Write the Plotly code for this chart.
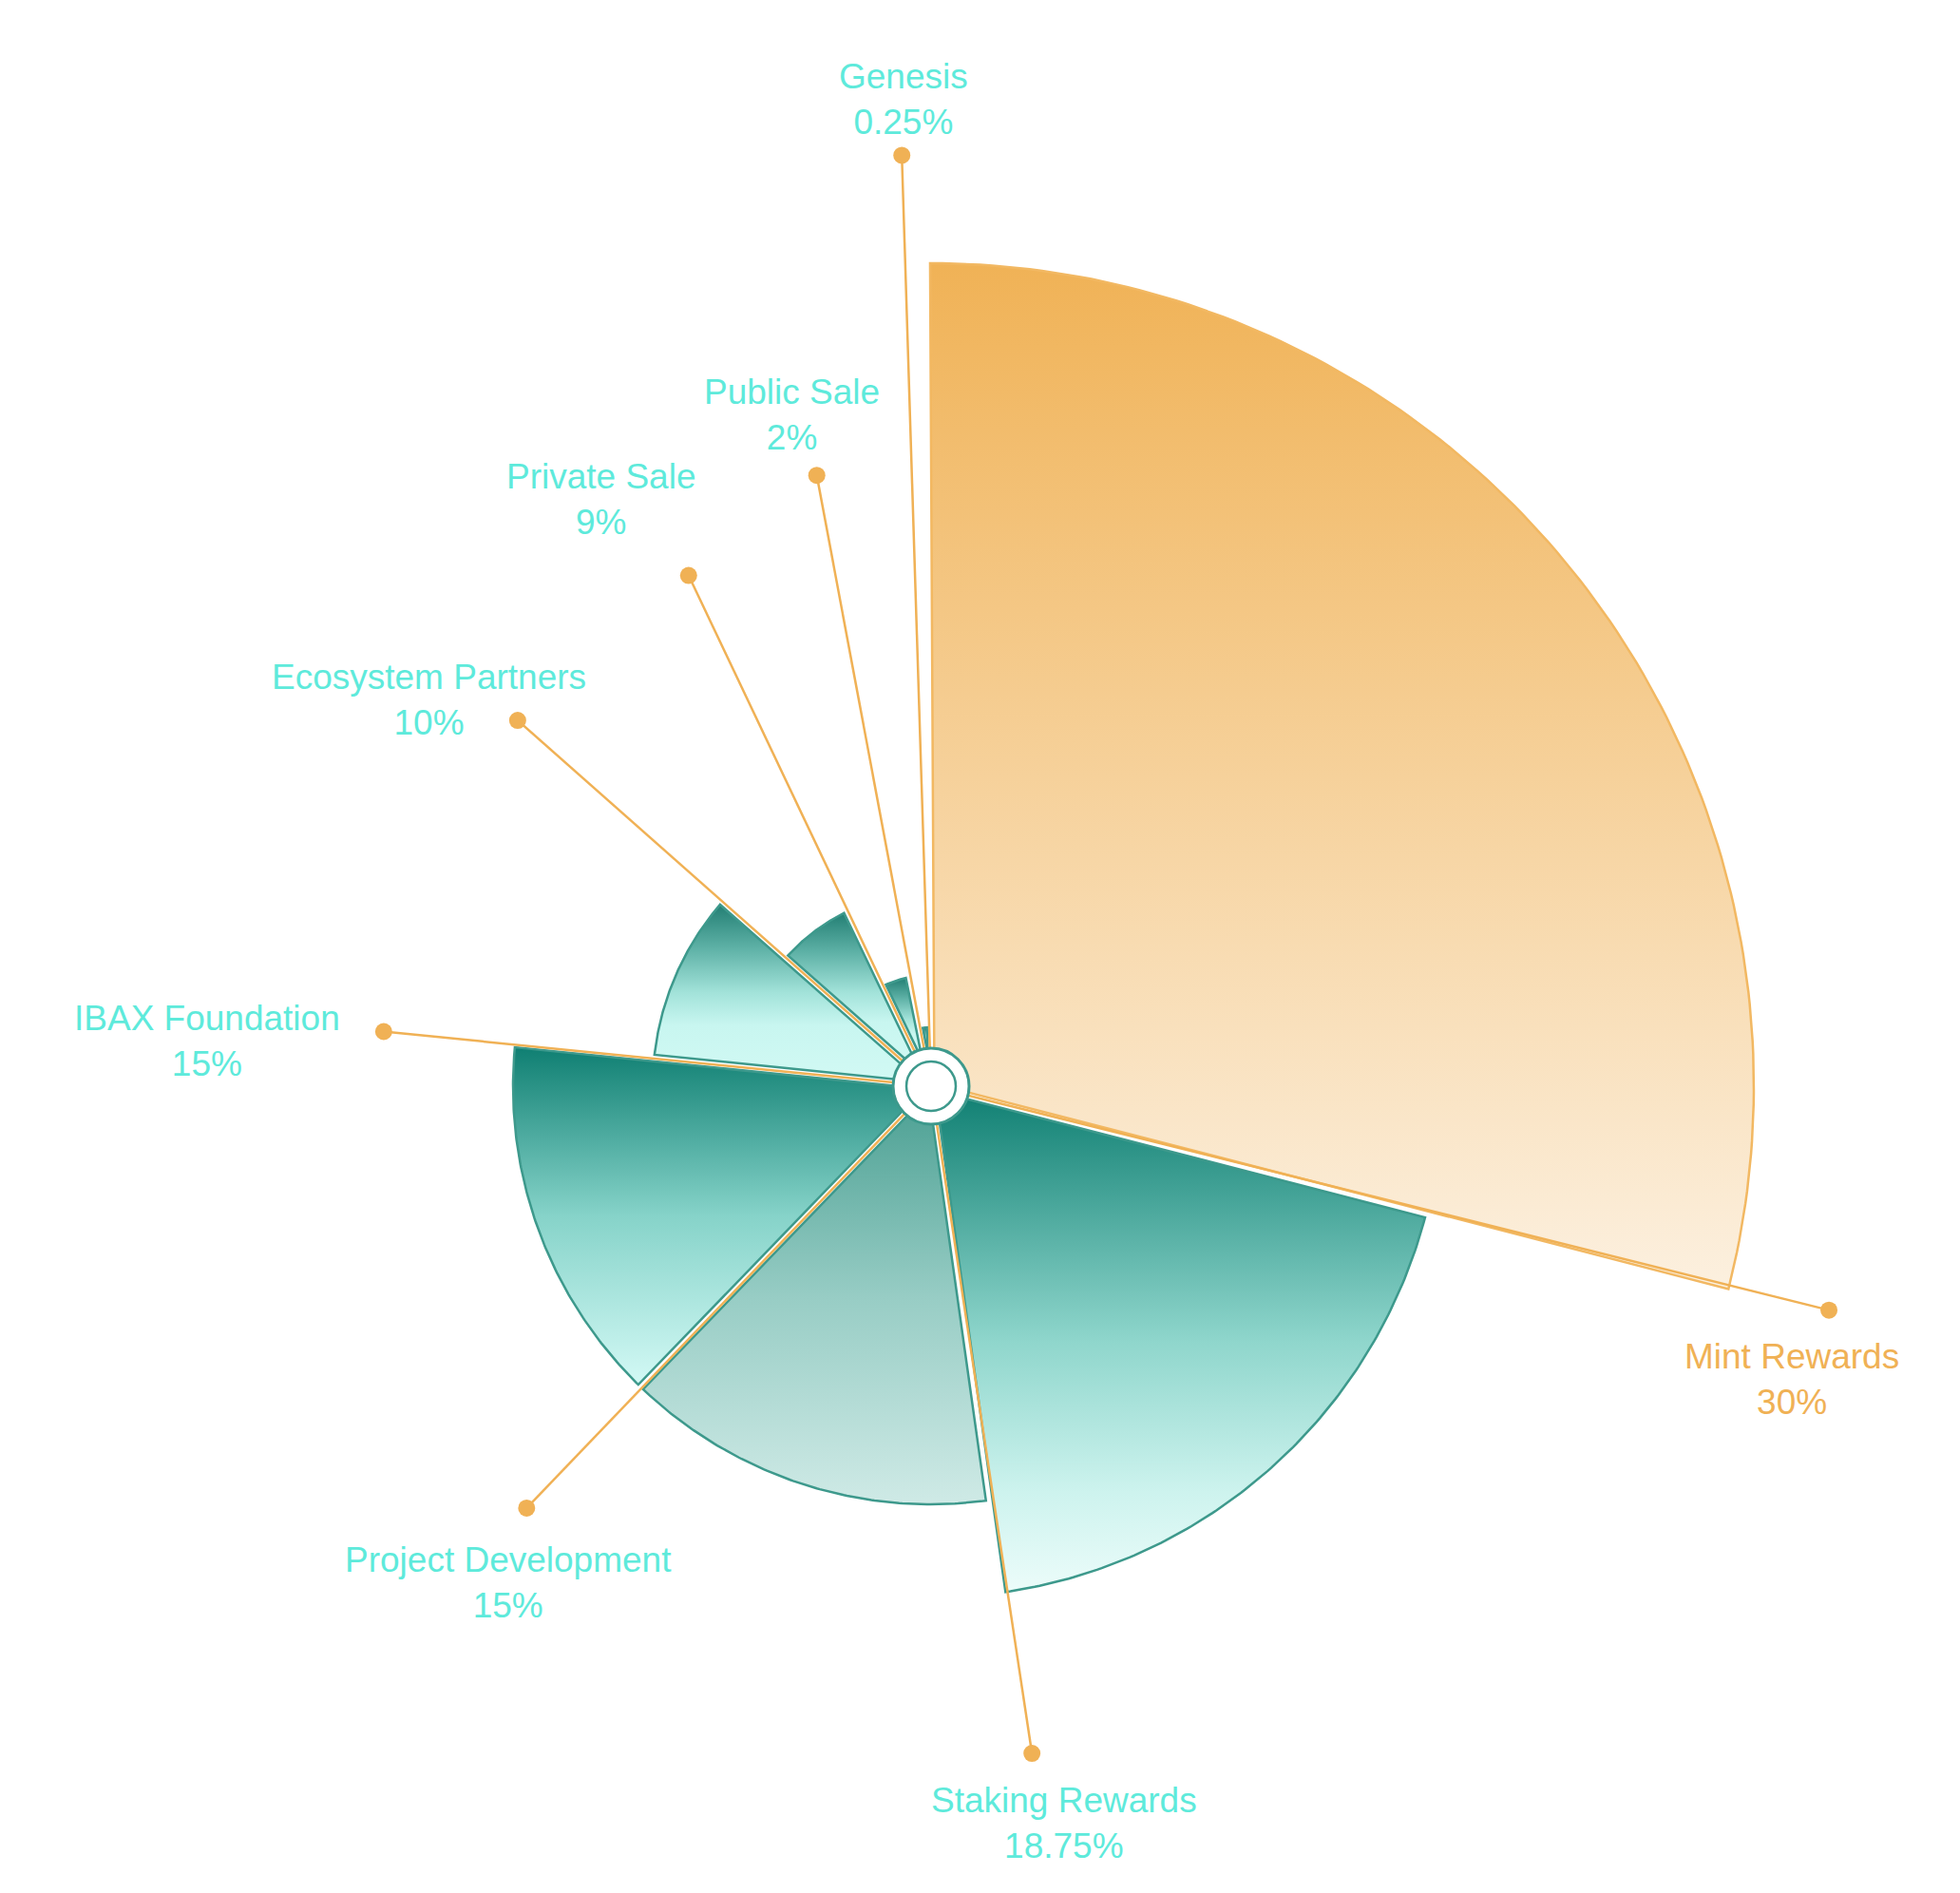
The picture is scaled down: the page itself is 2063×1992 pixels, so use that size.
import math
import plotly.graph_objects as go

# ---------------- data ----------------
categories = ["Mint Rewards", "Staking Rewards", "Project Development", "IBAX Foundation",
              "Ecosystem Partners", "Private Sale", "Public Sale", "Genesis"]
share_labels = ["30%", "18.75%", "15%", "15%", "10%", "9%", "2%", "0.25%"]
# angular extent of each rose sector (degrees, clockwise from 12 o'clock)
sector_spans = [104.8, 67.5, 52.0, 51.8, 35.6, 22.9, 14.3, 11.1]
start_angle = -0.3
# rose radius of each sector (chart units = px)
sector_radii = [866, 538, 440, 440, 293, 204, 117, 62]
# direction and length of each label leader line
leader_angles = [104.0, 171.4, 223.8, 275.7, 311.5, 334.6, 349.4, 358.2]
leader_lengths = [974, 710, 615, 579, 581, 595, 654, 980]

# ---------------- layout / styles ----------------
W, H = 2063, 1992
CX, CY = 980, 1143
GAP = 3.5
ORANGE = "#f0b155"
CYAN = "#5eeadb"
TEAL_LINE = "#3d998c"

small_scale = [[0, "#237f74"], [0.25, "#5fb2a7"], [0.5, "#a3e3da"], [0.68, "#c8f6f0"], [1, "#d2f9f4"]]
fills = [
    dict(scale=[[0, "#f0b256"], [1, "#fcf0df"]], line="#f2b862"),
    dict(scale=[[0, "#0f7f72"], [0.5, "#8fd6cc"], [0.8, "#cdf3ee"], [1, "#ecfcfa"]], line=TEAL_LINE),
    dict(scale=[[0, "#4a9f92"], [0.5, "#98cdc5"], [1, "#cfeae6"]], line=TEAL_LINE),
    dict(scale=[[0, "#0f7f72"], [0.5, "#86d3c9"], [1, "#d3f9f5"]], line=TEAL_LINE),
    dict(scale=small_scale, line=TEAL_LINE),
    dict(scale=small_scale, line=TEAL_LINE),
    dict(scale=small_scale, line=TEAL_LINE),
    dict(scale=small_scale, line=TEAL_LINE),
]

label_pos = {
    "Mint Rewards": (1886, 1451),
    "Staking Rewards": (1120, 1918),
    "Project Development": (535, 1665),
    "IBAX Foundation": (218, 1095),
    "Ecosystem Partners": (451, 736),
    "Private Sale": (633, 525),
    "Public Sale": (833, 436),
    "Genesis": (951, 104),
}


def direction(a):
    r = math.radians(a)
    return math.sin(r), -math.cos(r)


def sector(a1, a2, R, g, n=120):
    half = (a2 - a1) / 2.0
    mid = (a1 + a2) / 2.0
    off = g / math.sin(math.radians(half))
    dx, dy = direction(mid)
    xs = [CX + off * dx]
    ys = [CY + off * dy]
    da = math.degrees(math.asin(g / R))
    b1, b2 = a1 + da, a2 - da
    for i in range(n + 1):
        t = b1 + (b2 - b1) * i / n
        ux, uy = direction(t)
        xs.append(CX + R * ux)
        ys.append(CY + R * uy)
    xs.append(xs[0])
    ys.append(ys[0])
    return xs, ys


fig = go.Figure()

bounds = [start_angle]
for s in sector_spans:
    bounds.append(bounds[-1] + s)

for i, name in enumerate(categories):
    a1, a2 = bounds[i], bounds[i + 1]
    xs, ys = sector(a1, a2, sector_radii[i], GAP)
    fig.add_trace(go.Scatter(
        x=xs, y=ys, mode="lines", fill="toself",
        line=dict(color=fills[i]["line"], width=2.5),
        fillgradient=dict(type="vertical", colorscale=fills[i]["scale"],
                          start=min(ys), stop=max(ys)),
        hoverinfo="skip", showlegend=False, name=name,
    ))

# leader lines and dots
for i, name in enumerate(categories):
    ux, uy = direction(leader_angles[i])
    L = leader_lengths[i]
    fig.add_trace(go.Scatter(
        x=[CX + 40 * ux, CX + L * ux], y=[CY + 40 * uy, CY + L * uy],
        mode="lines", line=dict(color=ORANGE, width=2.5),
        hoverinfo="skip", showlegend=False,
    ))
    fig.add_trace(go.Scatter(
        x=[CX + L * ux], y=[CY + L * uy], mode="markers",
        marker=dict(color=ORANGE, size=18),
        hoverinfo="skip", showlegend=False,
    ))
    lx, ly = label_pos[name]
    fig.add_annotation(
        x=lx, y=ly, xref="x", yref="y", showarrow=False,
        text=f"{name}<br>{share_labels[i]}",
        font=dict(family="Liberation Sans, Arial, sans-serif", size=37,
                  color=ORANGE if i == 0 else CYAN),
        xanchor="center", yanchor="middle", align="center",
    )

# center disc
fig.add_shape(type="circle", xref="x", yref="y", x0=CX - 40, x1=CX + 40, y0=CY - 40, y1=CY + 40,
              fillcolor="white", line=dict(color=TEAL_LINE, width=3), layer="above")
fig.add_shape(type="circle", xref="x", yref="y", x0=CX - 26, x1=CX + 26, y0=CY - 26, y1=CY + 26,
              fillcolor="white", line=dict(color=TEAL_LINE, width=2.5), layer="above")

fig.update_layout(
    width=W, height=H, margin=dict(l=0, r=0, t=0, b=0),
    paper_bgcolor="white", plot_bgcolor="white",
    xaxis=dict(range=[0, W], visible=False, fixedrange=True),
    yaxis=dict(range=[H, 0], visible=False, fixedrange=True),
    showlegend=False,
)

fig.write_html("out.html", config={"displayModeBar": False},
               post_script="document.body.style.margin='0';document.body.style.overflow='hidden';")
